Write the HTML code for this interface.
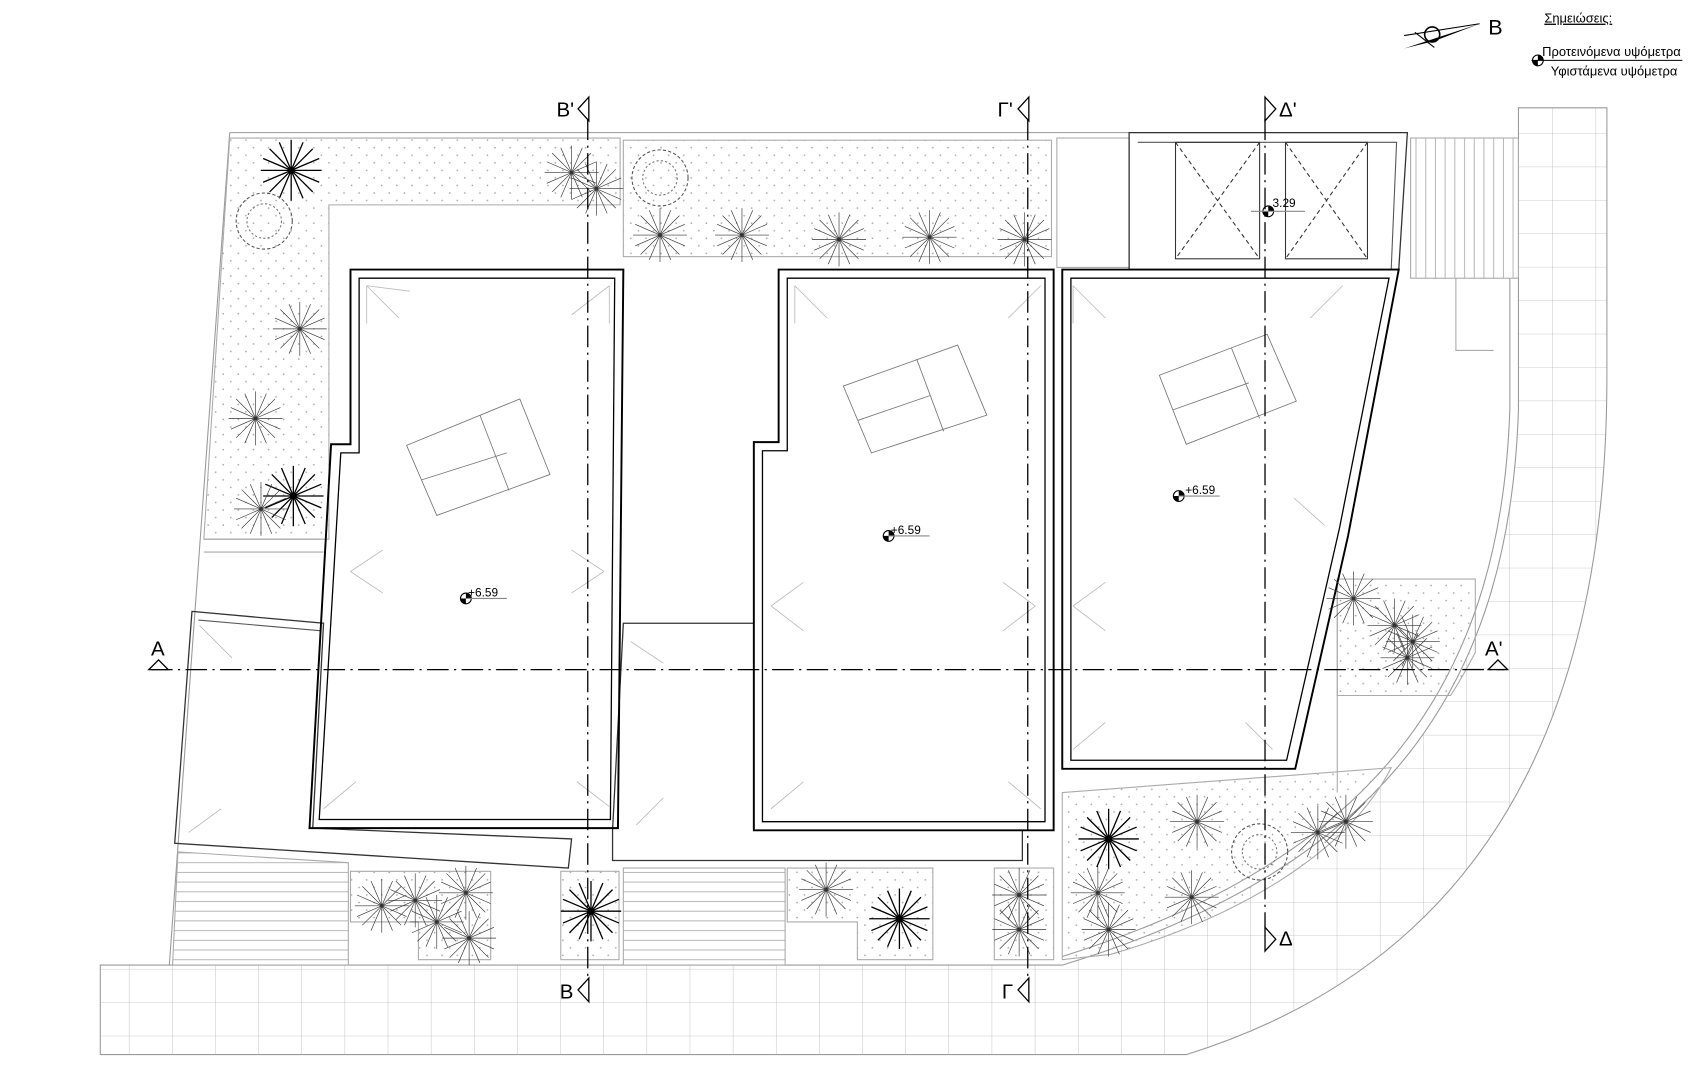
<!DOCTYPE html>
<html><head><meta charset="utf-8"><style>html,body{margin:0;padding:0;background:#fff}svg{display:block}text{font-family:"Liberation Sans","DejaVu Sans",sans-serif}</style></head><body>
<svg width="1691" height="1074" viewBox="0 0 1568 996" preserveAspectRatio="none" xmlns="http://www.w3.org/2000/svg">
<defs>
<pattern id="dots" width="14" height="14" patternUnits="userSpaceOnUse"><circle cx="4" cy="4" r="0.8" fill="#aaa"/><circle cx="11" cy="11" r="0.8" fill="#aaa"/></pattern>
<pattern id="grid" width="40" height="31" patternUnits="userSpaceOnUse"><path d="M40 0V31M0 31H40" stroke="#bbb" stroke-width="0.8" fill="none"/></pattern>
<pattern id="hl" width="10" height="9" patternUnits="userSpaceOnUse"><path d="M0 8H10" stroke="#aaa" stroke-width="0.8"/></pattern>
<pattern id="vl" width="9" height="10" patternUnits="userSpaceOnUse"><path d="M8 0V10" stroke="#aaa" stroke-width="0.8"/></pattern>
<g id="t"><g stroke="#333" stroke-width="0.6"><path d="M-25 0H25M0 -25V25M-18 -18L18 18M-18 18L18 -18M-23 -10L23 10M-23 10L23 -10M-10 -23L10 23M10 -23L-10 23"/></g></g>
<g id="tb"><g stroke="#000" stroke-width="1.2"><path d="M-28 0H28M0 -28V28M-20 -20L20 20M-20 20L20 -20M-26 -11L26 11M-26 11L26 -11M-11 -26L11 26M11 -26L-11 26"/></g></g>
<g id="tc"><circle r="26" fill="none" stroke="#555" stroke-width="1" stroke-dasharray="3 2"/><circle r="16" fill="none" stroke="#777" stroke-width="1" stroke-dasharray="2 2"/></g>
<g id="el"><circle r="5" fill="none" stroke="#000"/><path d="M-5 0A5 5 0 0 0 0 5V0ZM5 0A5 5 0 0 0 0 -5V0Z" fill="#000"/></g>
</defs>
<!-- paving -->
<path d="M93 895H985C1300 800 1400 620 1408 380V100H1490V350C1490 700 1350 900 1100 978H93Z" fill="url(#grid)" stroke="#999"/>
<path d="M985 887C1292 792 1392 615 1400 380V258" fill="none" stroke="#999"/>
<!-- site -->
<path d="M213 123H1305M213 123L157 895" stroke="#999" fill="none"/>
<!-- gardens -->
<path d="M213 128H575V190H305V500H189Z" fill="url(#dots)" stroke="#aaa"/>
<rect x="578" y="130" width="397" height="108" fill="url(#dots)" stroke="#aaa"/>
<path d="M1240 537H1368V605Q1355 630 1345 645H1240Z" fill="url(#dots)" stroke="#aaa"/>
<path d="M985 735L1290 712C1250 790 1150 850 1030 885L985 890Z" fill="url(#dots)" stroke="#aaa"/>
<path d="M1240 537V735M1350 258V325H1385" fill="none" stroke="#aaa"/>
<path d="M325 808H455V890H388V855H325Z" fill="url(#dots)" stroke="#aaa"/>
<rect x="520" y="808" width="54" height="82" fill="url(#dots)" stroke="#aaa"/>
<path d="M730 805H865V890H795V855H730Z" fill="url(#dots)" stroke="#aaa"/>
<rect x="922" y="805" width="55" height="85" fill="url(#dots)" stroke="#aaa"/>
<!-- stairs -->
<path d="M165 790L323 800V895H160Z" fill="url(#hl)" stroke="#aaa"/>
<rect x="578" y="805" width="150" height="90" fill="url(#hl)" stroke="#aaa"/>
<rect x="1308" y="128" width="100" height="130" fill="url(#vl)" stroke="#aaa"/>
<path d="M189 500H300M189 512H300" stroke="#aaa"/>
<!-- low buildings -->
<path d="M178 567L300 578L290 768L530 778L527 805L162 782Z" fill="none" stroke="#333" stroke-width="1.2"/>
<path d="M184 575L298 585" stroke="#555" fill="none"/>
<path d="M578 578H699V770H948V798H568V770Z" fill="none" stroke="#333" stroke-width="1.2"/>
<rect x="980" y="128" width="67" height="120" fill="none" stroke="#aaa"/>
<!-- garage -->
<path d="M1047 123H1305L1297 250H1047Z" fill="none" stroke="#333" stroke-width="1.2"/>
<path d="M1055 132H1295L1290 250" fill="none" stroke="#555"/>
<rect x="1090" y="132" width="78" height="108" fill="none" stroke="#333"/>
<rect x="1192" y="132" width="76" height="108" fill="none" stroke="#333"/>
<path d="M1090 132L1168 240M1168 132L1090 240M1192 132L1268 240M1268 132L1192 240" stroke="#333" stroke-dasharray="4 3"/>
<!-- buildings -->
<g fill="none" stroke="#000" stroke-width="1.8">
<path d="M325 250H578L573 768H287L307 412H325Z"/>
<path d="M333 258H570L566 760H296L316 420H333Z" stroke-width="1.2"/>
<path d="M722 250H977V770H699V410H722Z"/>
<path d="M730 258H969V762H707V418H730Z" stroke-width="1.2"/>
<path d="M985 250H1297L1250 497L1201 713H985Z"/>
<path d="M993 258H1288L1242 490L1193 705H993Z" stroke-width="1.2"/>
</g>
<!-- solar panels -->
<g fill="none" stroke="#777" stroke-width="0.8">
<path d="M377 413L482 370L510 440L405 478Z M445 385L472 455 M391 445L470 420"/>
<path d="M782 358L888 320L915 385L808 420Z M850 333L875 400 M795 390L862 367"/>
<path d="M1075 348L1175 310L1202 372L1100 412Z M1142 323L1168 388 M1088 380L1158 355"/>
</g>
<!-- roof drain marks -->
<g stroke="#bbb" stroke-width="0.8" fill="none">
<path d="M340 265L370 295M340 265V300M340 265L380 270M565 265L530 292M565 265V300M325 530L355 510M325 530L355 550M560 530L530 510M560 530L530 550M300 750L330 725M565 748L535 725"/>
<path d="M737 265L767 295M737 265V300M965 265L935 295M715 562L745 540M715 562L745 585M960 562L930 540M960 562L930 585M715 750L745 725M965 750L935 725"/>
<path d="M995 265L1025 295M995 265V300M1245 265L1215 295M995 562L1025 540M995 562L1025 585M1228 487L1200 462M995 695L1025 670M1180 695L1155 670M185 580L215 610M175 772L205 750M585 595L615 615M590 765L615 740"/>
</g>
<!-- trees -->
<use href="#tb" x="270" y="158"/><use href="#tc" x="245" y="205"/><use href="#t" x="530" y="160"/><use href="#t" x="553" y="175"/><use href="#tc" x="612" y="165"/>
<use href="#t" x="612" y="218"/><use href="#t" x="688" y="218"/><use href="#t" x="778" y="222"/><use href="#t" x="862" y="220"/><use href="#t" x="950" y="222"/>
<use href="#t" x="278" y="305"/><use href="#t" x="237" y="388"/><use href="#tb" x="272" y="460"/><use href="#t" x="242" y="472"/>
<use href="#t" x="354" y="840"/><use href="#t" x="385" y="835"/><use href="#t" x="405" y="855"/><use href="#t" x="432" y="828"/><use href="#t" x="435" y="870"/>
<use href="#tb" x="548" y="845"/><use href="#t" x="766" y="825"/><use href="#tb" x="834" y="852"/><use href="#t" x="945" y="830"/><use href="#t" x="945" y="862"/>
<use href="#tb" x="1028" y="778"/><use href="#t" x="1110" y="762"/><use href="#tc" x="1168" y="790"/><use href="#t" x="1222" y="772"/><use href="#t" x="1248" y="762"/>
<use href="#t" x="1018" y="828"/><use href="#t" x="1028" y="862"/><use href="#t" x="1105" y="832"/>
<use href="#t" x="1255" y="555"/><use href="#t" x="1293" y="580"/><use href="#t" x="1310" y="595"/><use href="#t" x="1305" y="610"/>
<!-- section lines -->
<g stroke="#000" stroke-width="1.2" stroke-dasharray="20 5 2 5" fill="none">
<path d="M545 110V905M953 110V905M1173 110V860M140 621H1395"/>
</g>
<g fill="none" stroke="#000" stroke-width="1.2">
<path d="M546 90L536 101L546 112Z M954 90L944 101L954 112Z M1173 90L1183 101L1173 112Z M546 907L536 918L546 929Z M954 907L944 918L954 929Z M1173 860L1183 871L1173 882Z M138 621L147 612L156 621Z M1380 621L1389 612L1398 621Z"/>
</g>
<g font-size="19" fill="#000">
<text x="516" y="108">B'</text><text x="925" y="108">Γ'</text><text x="1186" y="108">Δ'</text>
<text x="519" y="926">B</text><text x="929" y="926">Γ</text><text x="1186" y="877">Δ</text>
<text x="140" y="608">A</text><text x="1377" y="608">A'</text>
</g>
<!-- elevations -->
<use href="#el" x="432" y="555"/><path d="M432 555H470" stroke="#888"/><text x="434" y="553" font-size="11">+6.59</text>
<use href="#el" x="824" y="497"/><path d="M824 497H862" stroke="#888"/><text x="826" y="495" font-size="11">+6.59</text>
<use href="#el" x="1093" y="460"/><path d="M1093 460H1131" stroke="#888"/><text x="1099" y="458" font-size="11">+6.59</text>
<use href="#el" x="1176" y="196"/><path d="M1160 196H1210" stroke="#888"/><text x="1180" y="192" font-size="11">3.29</text>
<!-- north arrow + legend -->
<path d="M1302 45L1372 22L1330 38Z" fill="#000"/><path d="M1302 33L1372 22M1312 30L1330 44" stroke="#000" fill="none"/><circle cx="1328" cy="32" r="7" fill="none" stroke="#000" stroke-width="1.5"/>
<text x="1380" y="32" font-size="20">B</text>
<text x="1432" y="21" font-size="12" text-decoration="underline">Σημειώσεις:</text>
<text x="1430" y="52" font-size="12">Προτεινόμενα υψόμετρα</text>
<path d="M1420 56H1560" stroke="#000"/>
<use href="#el" x="1426" y="56"/>
<text x="1438" y="70" font-size="12">Υφιστάμενα υψόμετρα</text>
</svg>
</body></html>
